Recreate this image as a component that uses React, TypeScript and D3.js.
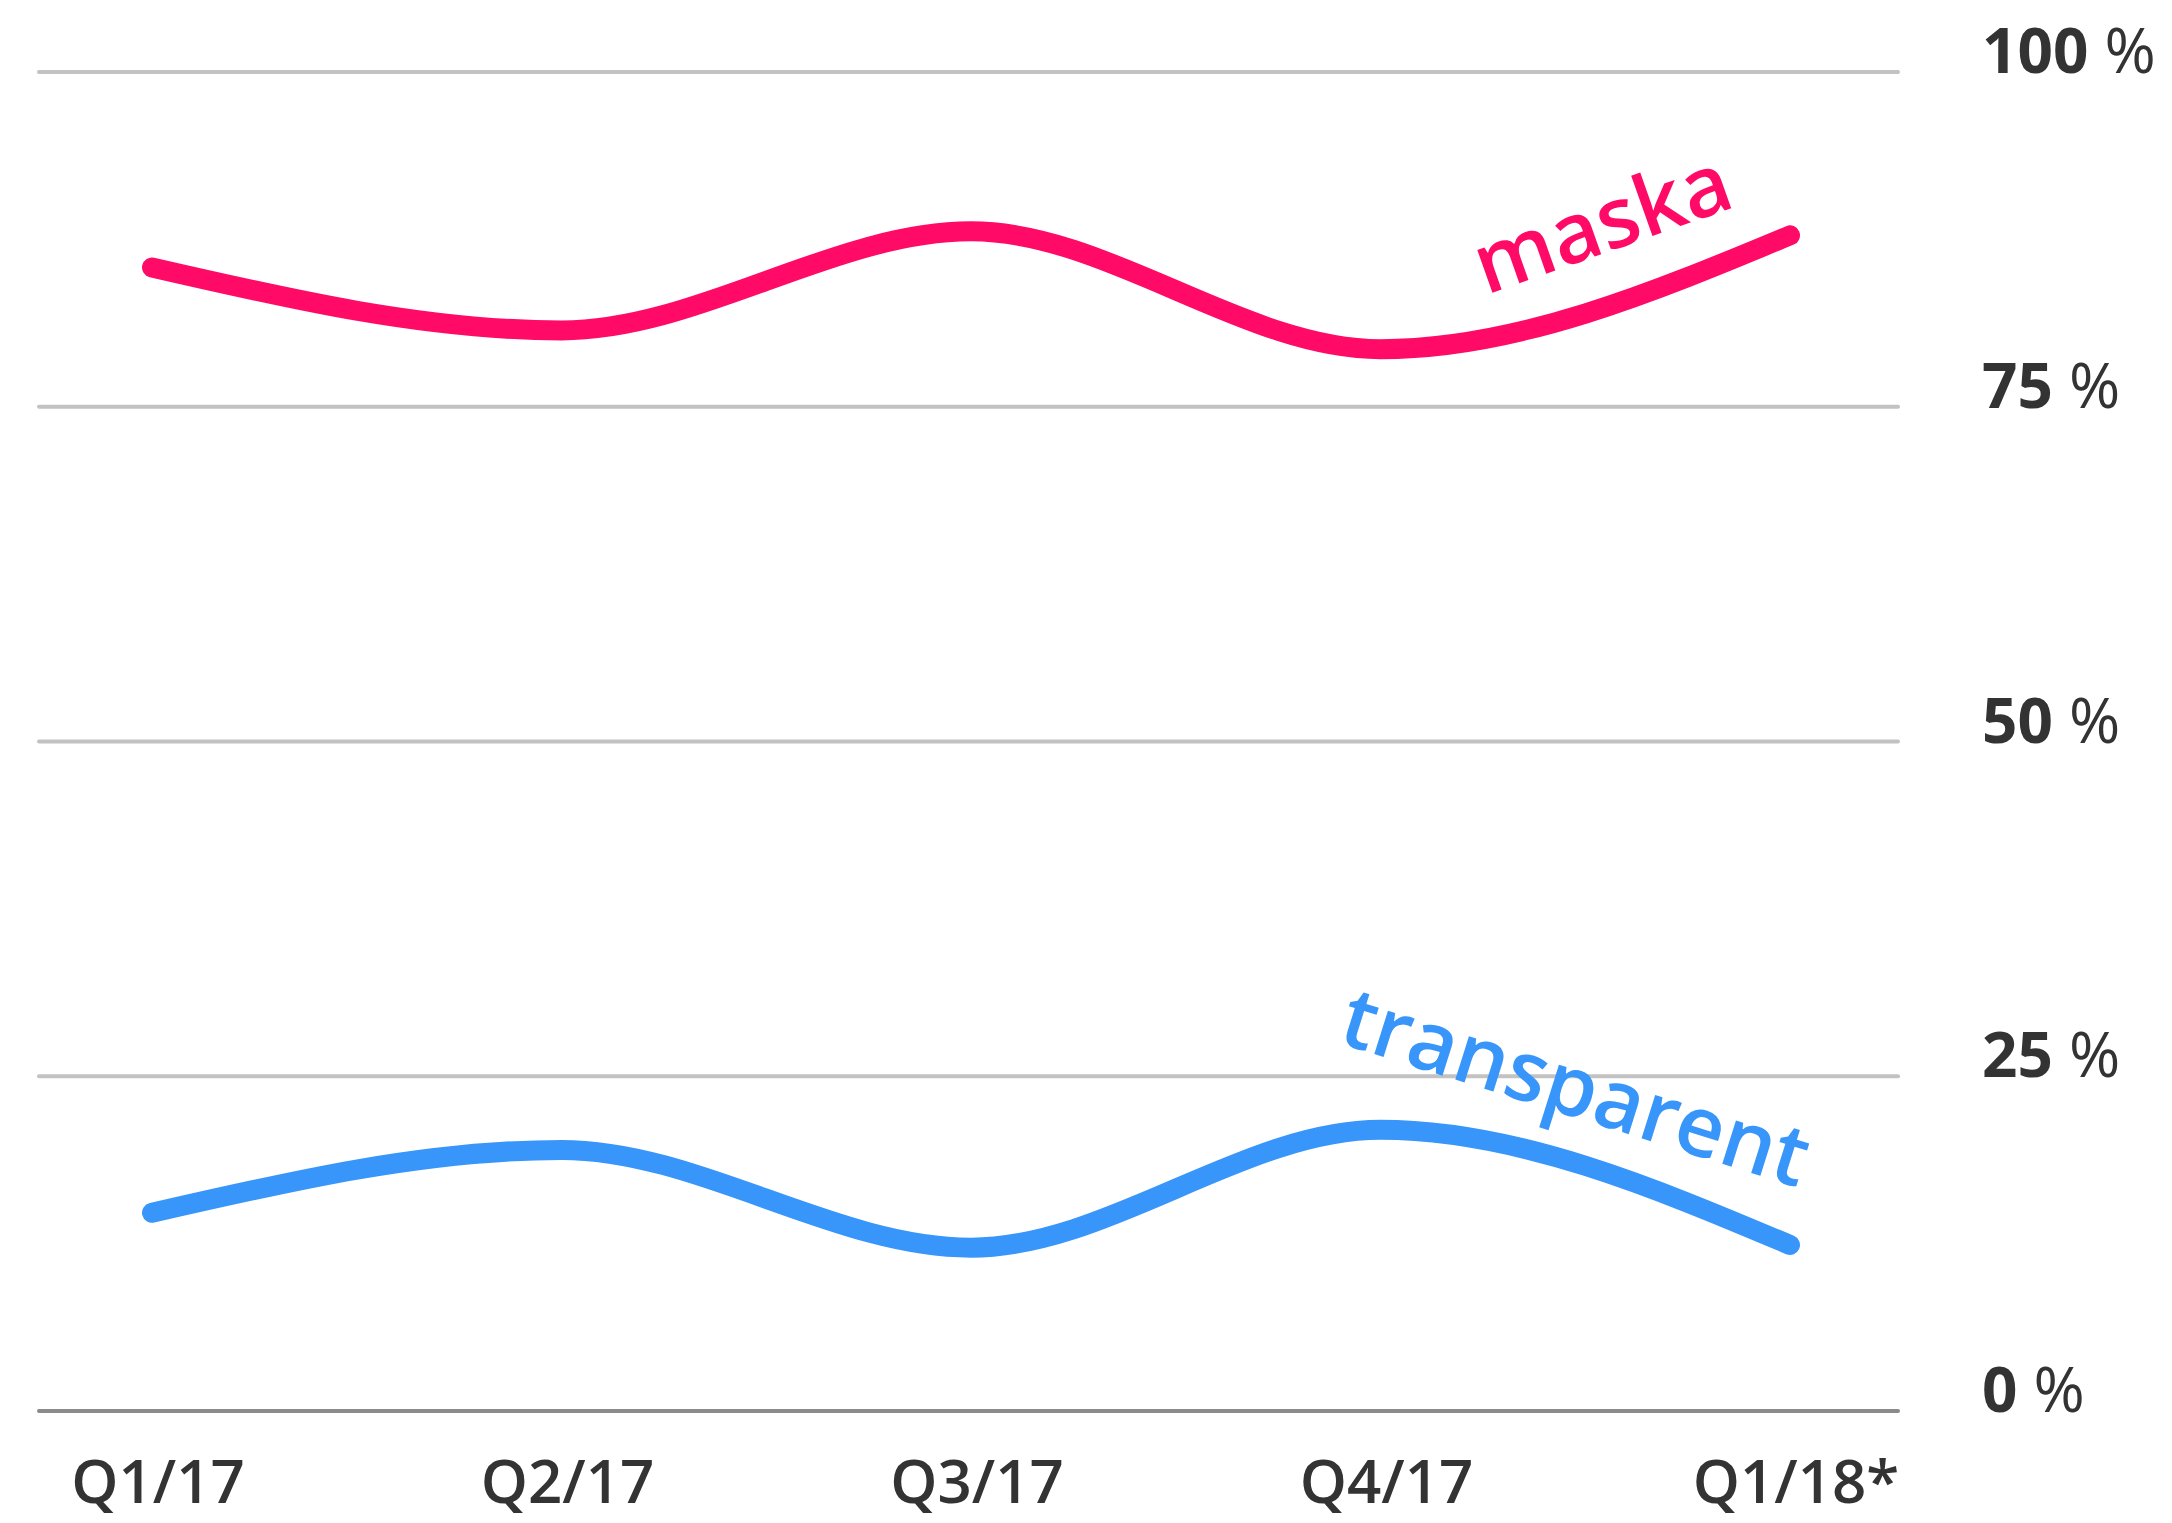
// @ts-nocheck
import * as d3 from "d3";

const quarters = ["Q1/17", "Q2/17", "Q3/17", "Q4/17", "Q1/18*"];
const maska = [85.4, 80.7, 88.1, 79.3, 87.8];
const transparent = [14.8, 19.5, 12.2, 21.0, 12.4];
const yTicks = [0, 25, 50, 75, 100];

const W = 2172;
const H = 1523;
const FONT = "'Open Sans', 'Noto Sans', sans-serif";

const App = () => {
  const x = d3.scalePoint().domain(quarters).range([152, 1790]);
  const y = d3.scaleLinear().domain([0, 100]).range([1411, 72]);

  const line = d3
    .line()
    .x((d, i) => x(quarters[i]))
    .y((d) => y(d))
    .curve(d3.curveMonotoneX);

  return (
    <svg
      width={W}
      height={H}
      style={{ position: "absolute", left: 0, top: 0, background: "#fff" }}
    >
      {/* grid */}
      {yTicks.map((t) => (
        <line
          key={t}
          x1={39}
          x2={1898}
          y1={y(t)}
          y2={y(t)}
          stroke={t === 0 ? "#8a8a8a" : "#c2c2c2"}
          strokeWidth={4}
          strokeLinecap="round"
        />
      ))}
      {yTicks.map((t) => (
        <text
          key={"l" + t}
          x={1982}
          y={y(t) + 1}
          fontFamily={FONT}
          fontSize={62}
          fill="#333"
        >
          <tspan fontWeight={700}>{t}</tspan>
          <tspan fontWeight={500}> %</tspan>
        </text>
      ))}

      {/* x labels */}
      {quarters.map((q) => (
        <text
          key={q}
          x={x(q) + 6}
          y={1503}
          textAnchor="middle"
          fontFamily={FONT}
          fontSize={60}
          fontWeight={600}
          fill="#333"
        >
          {q}
        </text>
      ))}

      {/* lines */}
      <path
        d={line(maska)}
        fill="none"
        stroke="#ff0a66"
        strokeWidth={20}
        strokeLinecap="round"
      />
      <path
        d={line(transparent)}
        fill="none"
        stroke="#3896fa"
        strokeWidth={20}
        strokeLinecap="round"
      />

      {/* series labels */}
      <text
        transform={`translate(1486,295) rotate(-19.5)`}
        fontFamily={FONT}
        fontSize={84}
        fontWeight={600}
        fill="#ff0a66"
      >
        maska
      </text>
      <text
        transform={`translate(1336,1042) rotate(17.5)`}
        fontFamily={FONT}
        fontSize={84}
        fontWeight={600}
        fill="#3896fa"
      >
        transparent
      </text>
    </svg>
  );
};

export default App;
